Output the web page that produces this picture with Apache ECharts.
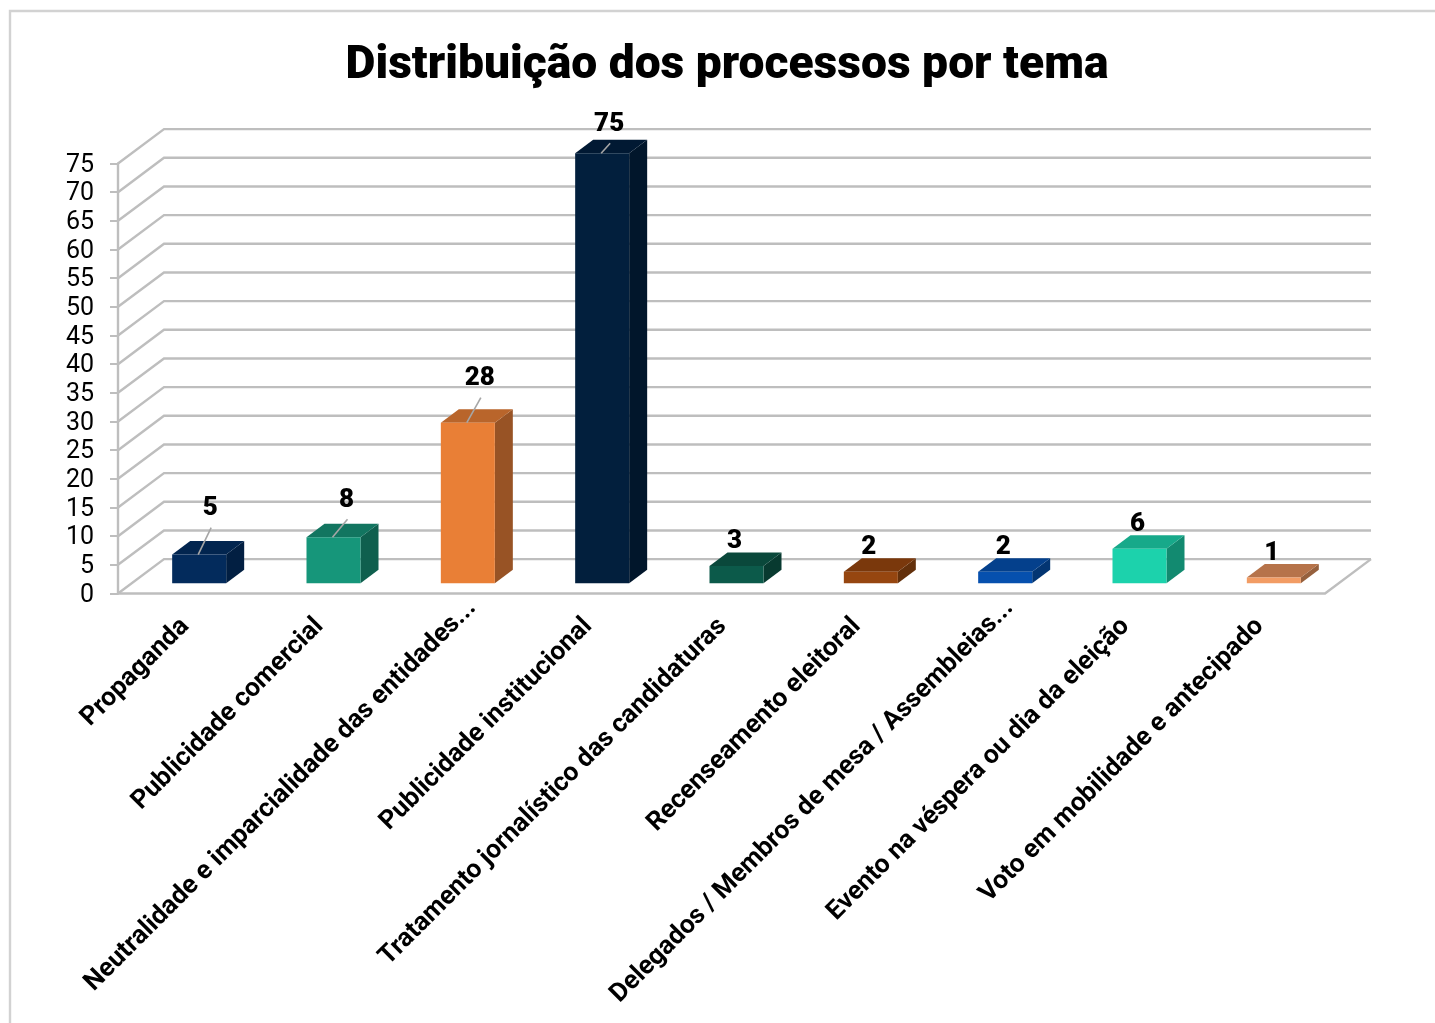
<!DOCTYPE html>
<html><head><meta charset="utf-8">
<style>html,body{margin:0;padding:0;background:#fff}#c{width:1435px;height:1023px}</style>
<script src="https://cdn.jsdelivr.net/npm/echarts@6/dist/echarts.min.js"></script>
</head><body><div id="c"></div>
<script>
const titleText = 'Distribuição dos processos por tema';
const categories = ['Propaganda','Publicidade comercial','Neutralidade e imparcialidade das entidades...','Publicidade institucional','Tratamento jornalístico das candidaturas','Recenseamento eleitoral','Delegados / Membros de mesa / Assembleias...','Evento na véspera ou dia da eleição','Voto em mobilidade e antecipado'];
const values = [5,8,28,75,3,2,2,6,1];
const yTicks = [0,5,10,15,20,25,30,35,40,45,50,55,60,65,70,75];
const frontColors = ['#032B5C','#16967A','#E97F36','#021F3D','#0C5A4A','#964610','#0650AE','#1CD2AC','#F29C64'];
const topColors   = ['#02254F','#127560','#B9652B','#011933','#0A483B','#7A380C','#04408C','#17A98A','#B6734A'];
const sideColors  = ['#021F42','#0F5F4E','#985325','#01162B','#083A30','#63300B','#033572','#128A70','#96603D'];
const labelShift = [[11,-46],[13,-37],[12,-44],[7,-29],[-2,-25],[-2,-24],[-2,-24],[-2,-24],[-2,-24]];

const WALL_DX = 46, WALL_DY = 34.4, FLOOR_INSET = 2, GAP_DX = 14, GAP_DY = 10.3, BAR_DX = 18, BAR_DY = 13.5;
const GRID = '#BEBEBE';
const FONT = 'Roboto';

function wall(params, api){
  const g = params.coordSys, y = api.coord([0, api.value(1)])[1];
  const right = g.x+g.width-FLOOR_INSET+WALL_DX;
  return {type:'polyline', silent:true, shape:{points:[[g.x,y],[g.x+WALL_DX,y-WALL_DY],[right,y-WALL_DY]]}, style:{stroke:GRID,lineWidth:2.4,fill:null}};
}
function floorEdge(params, api){
  const g = params.coordSys, y = api.coord([0,0])[1], r = g.x+g.width-FLOOR_INSET;
  return {type:'polyline', silent:true, shape:{points:[[g.x,y],[r,y],[r+WALL_DX,y-WALL_DY]]}, style:{stroke:GRID,lineWidth:2.4,fill:null}};
}
function bar(params, api){
  const i = api.value(0), v = api.value(1);
  const base = api.coord([i,0]), top = api.coord([i,v]);
  const w = 54;
  const x0 = base[0]+GAP_DX-w/2, x1 = x0+w, yb = base[1]-GAP_DY, yt = top[1]-GAP_DY;
  const cx = x0+w/2;
  const s = labelShift[i];
  const lx = cx+s[0], ly = yt+s[1];
  const children = [
    {type:'polygon',shape:{points:[[x1,yb],[x1+BAR_DX,yb-BAR_DY],[x1+BAR_DX,yt-BAR_DY],[x1,yt]]},style:{fill:sideColors[i]}},
    {type:'polygon',shape:{points:[[x0,yt],[x0+BAR_DX,yt-BAR_DY],[x1+BAR_DX,yt-BAR_DY],[x1,yt]]},style:{fill:topColors[i]}},
    {type:'rect',shape:{x:x0,y:yt,width:w,height:yb-yt},style:{fill:frontColors[i]}}
  ];
  if (s[1] < -28) children.push({type:'line',shape:{x1:cx-1,y1:yt,x2:lx+1,y2:ly+19},style:{stroke:'#A6A6A6',lineWidth:1.6}});
  children.push({type:'text',style:{x:lx,y:ly,text:String(v),align:'center',verticalAlign:'middle',fill:'#000',font:'900 26px '+FONT}});
  return {type:'group',children};
}
const chart = echarts.init(document.getElementById('c'),null,{renderer:'canvas'});
chart.setOption({
  animation:false,
  backgroundColor:'#fff',
  title:{text:titleText,left:722,top:38,textAlign:'center',textStyle:{fontFamily:FONT,fontWeight:900,fontSize:46.2,color:'#000'}},
  graphic:[{type:'polyline',silent:true,shape:{points:[[10,1030],[10,11],[1440,11]]},style:{stroke:'#D2D2D2',lineWidth:2.4,fill:null}}],
  grid:{left:118,top:163.5,width:1209,height:430,outerBoundsMode:'none'},
  xAxis:{type:'category',data:categories,
    axisLine:{show:false},axisTick:{show:false},
    axisLabel:{interval:0,rotate:45,margin:29,color:'#000',fontFamily:FONT,fontWeight:'bold',fontSize:26,hideOverlap:false,
      formatter:(t)=>t.endsWith('...')?'{long|'+t+'}':t,
      rich:{long:{color:'#000',fontFamily:FONT,fontWeight:'bold',fontSize:26,padding:[0,-26,0,0]}}}},
  yAxis:{type:'value',min:0,max:75,interval:5,
    axisLine:{show:true,lineStyle:{color:GRID,width:2.4}},axisTick:{show:true,length:8,lineStyle:{color:GRID,width:2}},
    splitLine:{show:false},
    axisLabel:{margin:24,color:'#000',fontFamily:FONT,fontSize:25,
      formatter:(v)=>'{t|'+v+'}',
      rich:{t:{color:'#000',fontFamily:FONT,fontSize:25,padding:[4,0,0,0]}}}},
  series:[
    {type:'custom',z:1,clip:false,silent:true,renderItem:wall,data:yTicks.map(v=>[0,v])},
    {type:'custom',z:1,clip:false,silent:true,renderItem:floorEdge,data:[[0,0]]},
    {type:'custom',z:3,clip:false,renderItem:bar,data:values.map((v,i)=>[i,v])}
  ]
});
</script></body></html>
